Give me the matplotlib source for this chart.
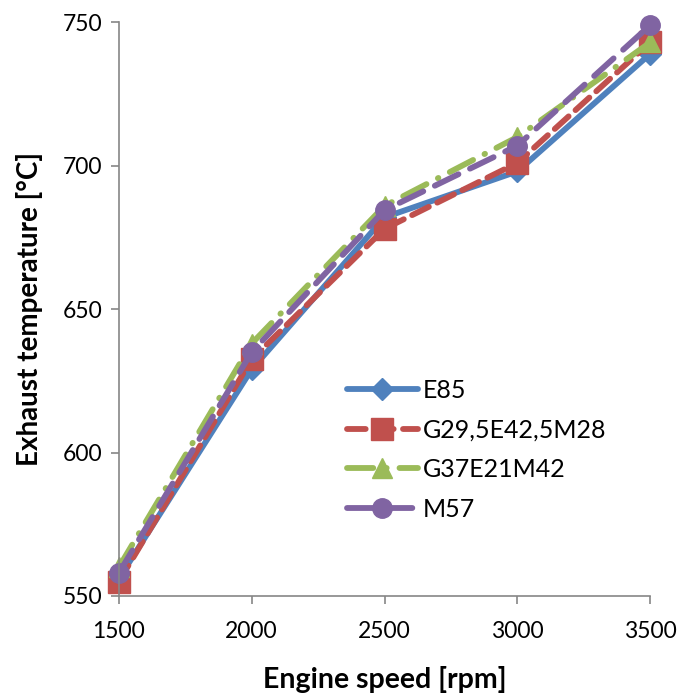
import matplotlib.pyplot as plt
import numpy as np

plt.rcParams['font.family'] = ['Lato', 'DejaVu Sans']

speed = [1500, 2000, 2500, 3000, 3500]
e85 = [556, 629, 682, 698, 739]
g29 = [555, 632.5, 678, 701, 743]
g37 = [560, 638, 686, 710, 743]
m57 = [558, 635, 684.5, 707, 749]

fig = plt.figure(figsize=(6.83, 6.97), dpi=100)
ax = fig.add_axes([0.174, 0.145, 0.778, 0.823])

lw = 4.2
ax.plot(speed, e85, color='#4F81BD', lw=lw, marker='D', ms=11, label='E85',
        solid_capstyle='round')
ax.plot(speed, g29, color='#C0504D', lw=lw, marker='s', ms=16, label='G29,5E42,5M28',
        dashes=(3.2, 1.6), dash_capstyle='round')
ax.plot(speed, g37, color='#9BBB59', lw=lw, marker='^', ms=15, label='G37E21M42',
        dashes=(4.5, 2.2, 0.1, 2.2), dash_capstyle='round')
ax.plot(speed, m57, color='#8064A2', lw=lw, marker='o', ms=14, label='M57',
        dashes=(4.5, 2.2), dash_capstyle='round')

ax.set_xlim(1500, 3500)
ax.set_ylim(550, 750)
ax.set_xticks([1500, 2000, 2500, 3000, 3500])
ax.set_yticks([550, 600, 650, 700, 750])
ax.tick_params(labelsize=16.5, length=6, color='#868686', width=1.2, pad=6)
ax.tick_params(axis='x', pad=12)
for s in ['top', 'right']:
    ax.spines[s].set_visible(False)
for s in ['left', 'bottom']:
    ax.spines[s].set_color('#868686')
    ax.spines[s].set_linewidth(1.2)
for ln in ax.get_lines():
    ln.set_clip_on(False)

ax.set_xlabel('Engine speed [rpm]', fontsize=20.5, fontweight='bold', labelpad=17)
ax.set_ylabel('Exhaust temperature [°C]', fontsize=20, fontweight='bold', labelpad=14)

ax.legend(loc='upper left', bbox_to_anchor=(0.429, 0.378), frameon=False, fontsize=18,
          handlelength=2.85, labelspacing=0.66, handletextpad=0.2,
          borderaxespad=0, borderpad=0)

fig.savefig('out.png', dpi=100)
